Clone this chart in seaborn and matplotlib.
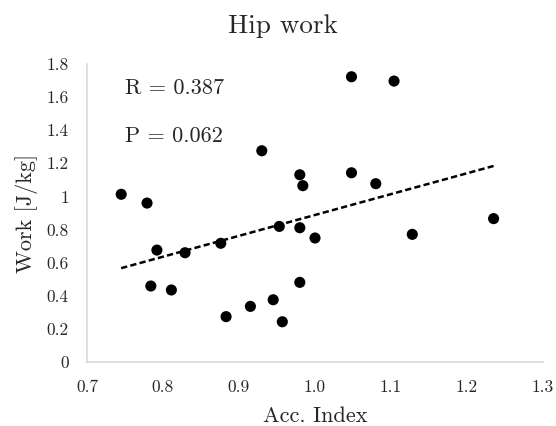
import matplotlib
matplotlib.use("Agg")
import matplotlib.pyplot as plt
import seaborn as sns
import pandas as pd

acc_index = [0.745, 0.779, 0.792, 0.784, 0.811, 0.829, 0.876, 0.883, 0.915, 0.930,
             0.945, 0.953, 0.957, 0.980, 0.984, 0.980, 0.980, 1.000, 1.048, 1.104,
             1.048, 1.080, 1.128, 1.235]
work = [1.013, 0.960, 0.676, 0.459, 0.435, 0.660, 0.717, 0.274, 0.336, 1.276,
        0.376, 0.819, 0.243, 1.131, 1.065, 0.811, 0.481, 0.749, 1.723, 1.697,
        1.143, 1.077, 0.771, 0.866]
x_ticks = [0.7, 0.8, 0.9, 1.0, 1.1, 1.2, 1.3]
x_tick_labels = ["0.7", "0.8", "0.9", "1.0", "1.1", "1.2", "1.3"]
y_ticks = [0, 0.2, 0.4, 0.6, 0.8, 1.0, 1.2, 1.4, 1.6, 1.8]
y_tick_labels = ["0", "0.2", "0.4", "0.6", "0.8", "1", "1.2", "1.4", "1.6", "1.8"]
stats_text = ["R = 0.387", "P = 0.062"]

df = pd.DataFrame({"Acc. Index": acc_index, "Work": work})

sns.set_theme(style="white")
plt.rcParams["font.family"] = ["cmr10", "DejaVu Serif"]
plt.rcParams["axes.formatter.use_mathtext"] = True
plt.rcParams["axes.unicode_minus"] = False

TXT = "#262626"

fig = plt.figure(figsize=(5.56, 4.26), dpi=100)
ax = fig.add_axes([87/556, 1 - 362/426, (543-87)/556, (362-64)/426])

sns.scatterplot(data=df, x="Acc. Index", y="Work", ax=ax, color="black",
                s=64, edgecolor="none", zorder=3)
sns.regplot(data=df, x="Acc. Index", y="Work", ax=ax, scatter=False, ci=None,
            line_kws=dict(color="black", lw=1.8, ls=(0, (2.5, 1.3))))

ax.set_xlim(0.7, 1.3)
ax.set_ylim(0, 1.8)
ax.set_xticks(x_ticks)
ax.set_xticklabels(x_tick_labels)
ax.set_yticks(y_ticks)
ax.set_yticklabels(y_tick_labels)
ax.tick_params(axis="x", length=0, labelsize=12.5, colors=TXT, pad=13)
ax.tick_params(axis="y", length=0, labelsize=12.5, colors=TXT, pad=13)

for side in ["top", "right"]:
    ax.spines[side].set_visible(False)
for side in ["left", "bottom"]:
    ax.spines[side].set_color("#d9d9d9")
    ax.spines[side].set_linewidth(1.2)

ax.set_xlabel("Acc. Index", fontsize=16, color=TXT, labelpad=8)
ax.set_ylabel("Work [J/kg]", fontsize=16, color=TXT, labelpad=6)
fig.text(283/556, 1 - 33/426, "Hip work", fontsize=19.5, color=TXT,
         ha="center", va="baseline")

ax.text(0.750, 1.618, stats_text[0], fontsize=16, color=TXT, va="baseline")
ax.text(0.750, 1.329, stats_text[1], fontsize=16, color=TXT, va="baseline")

fig.savefig("out.png", dpi=100)
